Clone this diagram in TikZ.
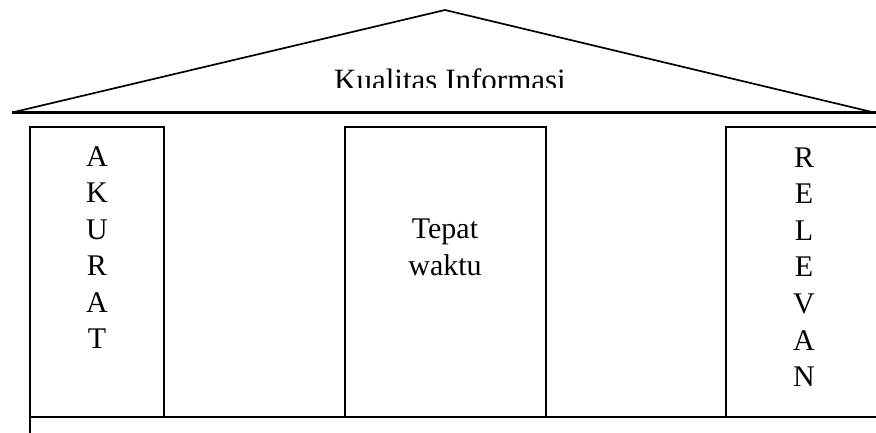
\documentclass[tikz,border=0pt]{standalone}
\usepackage{fontspec}
\setmainfont{Liberation Serif}
\begin{document}
\begin{tikzpicture}[x=1pt,y=-1pt,line join=miter,
  pillar/.style={draw, line width=1.5pt, inner sep=0pt, minimum height=290pt},
  lbl/.style={font=\fontsize{30}{36}\selectfont, inner sep=0pt, anchor=base},
  roofline/.style={line width=1.7pt},
  baseline/.style={line width=2.3pt}]
\useasboundingbox (0,0) rectangle (876,432);
\clip (0,0) rectangle (876,432);
% roof
\coordinate (rl) at (12,112.5);
\coordinate (rt) at (445,10);
\coordinate (rr) at (874,112.5);
\coordinate (re) at (882,112.5);
\draw[roofline] (rl) -- (rt) -- (rr);
\draw[baseline] (rl) -- (re);
\begin{scope}
  \clip (0,0) rectangle (876,87);
  \node[lbl, font=\fontsize{31}{37}\selectfont] (title) at (450,90.5) {Kualitas Informasi};
\end{scope}
% pillars
\node[pillar, minimum width=134pt] (akurat) at (97,272) {};
\node[pillar, minimum width=201pt] (tepat) at (445.5,272) {};
\node[pillar, minimum width=200pt] (relevan) at (826,272) {};
% foundation
\node[pillar, minimum width=900pt, minimum height=100pt] (base) at (480,467) {};
% texts
\foreach \c [count=\i] in {A,K,U,R,A,T}
  \node[lbl] (ak\i) at (97,{166+36.5*(\i-1)}) {\c};
\foreach \c [count=\i] in {R,E,L,E,V,A,N}
  \node[lbl] (re\i) at (804,{167+36.6*(\i-1)}) {\c};
\node[lbl] (tp1) at (445,238) {Tepat};
\node[lbl] (tp2) at (445,275) {waktu};
\end{tikzpicture}
\end{document}
